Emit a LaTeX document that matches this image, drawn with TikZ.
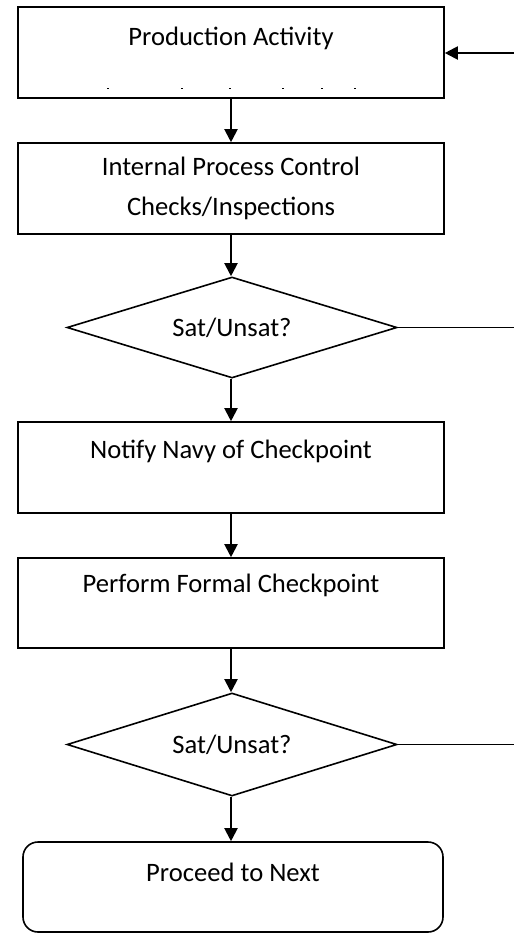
\documentclass[tikz,border=0pt]{standalone}
\usepackage{fontspec}
\setmainfont{Carlito}
\usetikzlibrary{shapes.geometric,arrows.meta}
\tikzset{
  every node/.style={font=\fontsize{26.6}{40}\selectfont},
  stepbox/.style={draw=black, line width=1.6pt, fill=white, minimum width=426pt, inner sep=0pt, align=center},
  decision/.style={draw=black, line width=1.6pt, fill=white, diamond, aspect=3.3, inner sep=0pt, minimum width=330pt},
  endbox/.style={draw=black, line width=1.6pt, fill=white, rounded corners=15pt, minimum width=420pt, inner sep=0pt, align=center},
  flow/.style={line width=2pt, -{Triangle[length=13pt,width=13pt]}},
  back/.style={line width=1.4pt},
}
\begin{document}
\begin{tikzpicture}[x=1pt,y=-1pt]
\useasboundingbox (0,0) rectangle (514,935);
\fill[white] (0,0) rectangle (514,935);

\node[stepbox, text height=38pt, text depth=53pt] (b1) at (231,52.5) {Production Activity};
\node[stepbox, minimum height=91pt] (b2) at (231,188.5) {Internal Process Control\\Checks/Inspections};
\node[decision, minimum height=101pt] (d1) at (232,327.5) {Sat/Unsat?};
\node[stepbox, text height=36pt, text depth=55pt] (b3) at (231,467.5) {Notify Navy of Checkpoint};
\node[stepbox, text height=34pt, text depth=56pt] (b4) at (231,603) {Perform Formal Checkpoint};
\node[decision, minimum height=103pt] (d2) at (232,744.5) {Sat/Unsat?};
\node[endbox, text height=39pt, text depth=51pt] (e) at (233,887) {Proceed to Next};

% clipped remains of a second text line in the first box
\foreach \px in {108,182,230,283,322,355}
  \fill[black] (\px-0.8,87.5) rectangle (\px+0.8,89);

\coordinate (r0) at (514,53);
\coordinate (r1) at (514,327.5);
\coordinate (r2) at (514,744.5);

\draw[flow] (b1.south) -- (b2.north);
\draw[flow] (b2.south) -- (b2.south |- d1.north);
\draw[flow] (b2.south |- d1.south) -- (b3.north);
\draw[flow] (b3.south) -- (b4.north);
\draw[flow] (b4.south) -- (b4.south |- d2.north);
\draw[flow] (b4.south |- d2.south) -- (b4.south |- e.north);
\draw[flow] (r0) -- (b1.east |- r0);
\draw[back] (d1.east) -- (r1);
\draw[back] (d2.east) -- (r2);
\end{tikzpicture}
\end{document}
